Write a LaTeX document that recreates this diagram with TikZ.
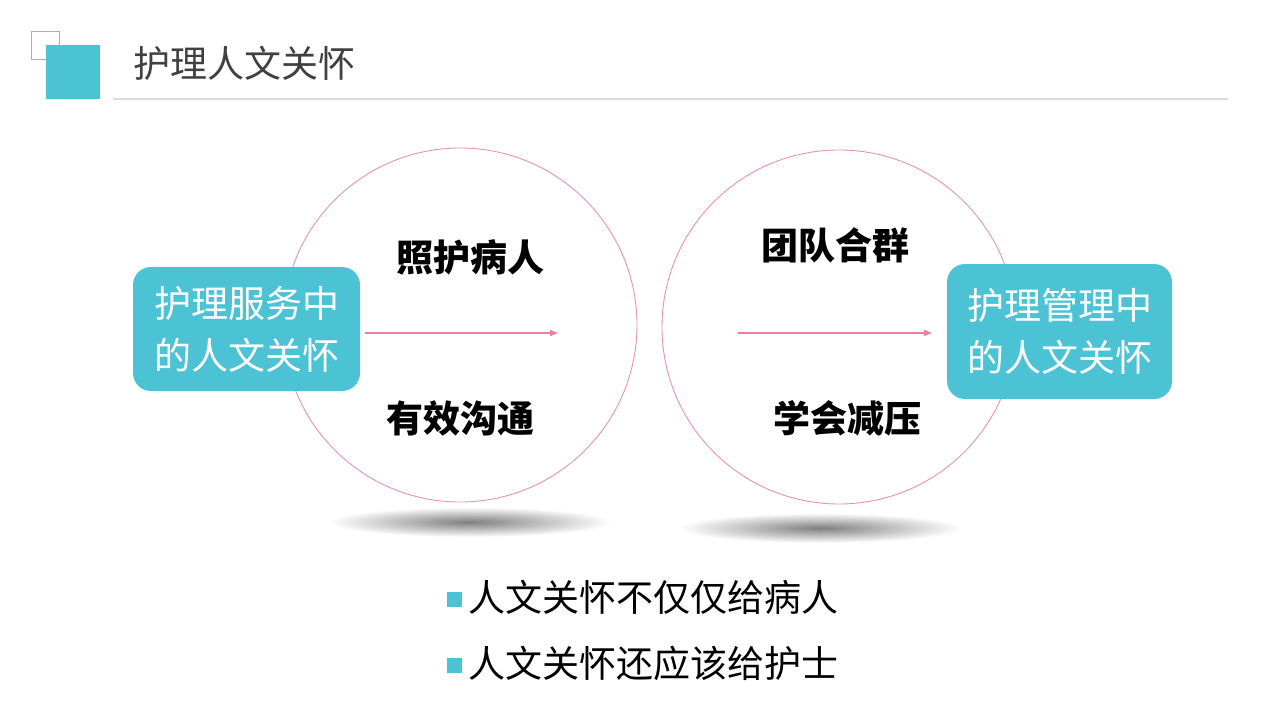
\documentclass[tikz,border=0pt]{standalone}
\usepackage{fontspec}
\setmainfont{Noto Sans CJK SC}
\usetikzlibrary{arrows.meta}
\definecolor{boxcyan}{HTML}{4BC3D5}
\definecolor{ringpink}{HTML}{E893AB}
\definecolor{arrowpink}{HTML}{F07D9C}
\definecolor{titlegray}{HTML}{404040}
\definecolor{rulegray}{HTML}{DADADA}
\tikzset{
  topic/.style={fill=boxcyan, text=white, rounded corners=18pt, align=center,
    font=\fontsize{37}{52}\selectfont, inner sep=0pt},
  ring/.style={circle, draw=ringpink, line width=0.9pt, minimum size=354pt, inner sep=0pt},
  point/.style={font=\fontsize{37}{40}\selectfont\bfseries, text=black},
  flow/.style={draw=arrowpink, line width=1.6pt, -{Triangle[length=8pt,width=6pt]}},
  bullet/.style={fill=boxcyan, minimum size=15pt, inner sep=0pt},
  item/.style={anchor=west, font=\fontsize{37}{40}\selectfont, text=black, inner sep=0pt}
}
\begin{document}
\begin{tikzpicture}[x=1pt,y=-1pt]
        \useasboundingbox (0,0) rectangle (1280,720);
        % header
        \node (mark1) [draw=ringpink, line width=1pt, minimum size=28pt, inner sep=0pt] at (45,45) {};
        \node (mark2) [fill=boxcyan, minimum size=54pt, inner sep=0pt] at (73,72) {};
        \node (title) [anchor=west, inner sep=0pt, text=titlegray, font=\fontsize{37}{40}\selectfont] at (133,63) {护理人文关怀};
        \draw [rulegray, line width=1.5pt] (113,99) -- (1228,99);
        % shadows
        \shade [inner color=black!50, outer color=white] (470,522) ellipse [x radius=142, y radius=15];
        \shade [inner color=black!50, outer color=white] (820,528) ellipse [x radius=142, y radius=15];
        % circles
        \node (lring) [ring] at (460,325) {};
        \node (rring) [ring] at (839,327) {};
        % boxes
        \node (lbox) [topic, minimum width=227pt, minimum height=124pt] at (246.5,329) {护理服务中\\的人文关怀};
        \node (rbox) [topic, minimum width=225pt, minimum height=135pt] at (1059.5,331.5) {护理管理中\\的人文关怀};
        % labels
        \node (p1) [point] at (470,257) {照护病人};
        \node (p2) [point] at (460,418) {有效沟通};
        \node (p3) [point] at (835,245) {团队合群};
        \node (p4) [point] at (847,418) {学会减压};
        % arrows
        \coordinate (a1) at (365,333);
        \coordinate (a2) at (558,333);
        \coordinate (a3) at (738,333);
        \coordinate (a4) at (932,333);
        \draw [flow] (a1) -- (a2);
        \draw [flow] (a3) -- (a4);
        % bullets
        \node (b1) [bullet] at (454.5,599) {};
        \node (b2) [bullet] at (454.5,665) {};
        \node (t1) [item] at (468,597) {人文关怀不仅仅给病人};
        \node (t2) [item] at (468,663) {人文关怀还应该给护士};
\end{tikzpicture}
\end{document}
